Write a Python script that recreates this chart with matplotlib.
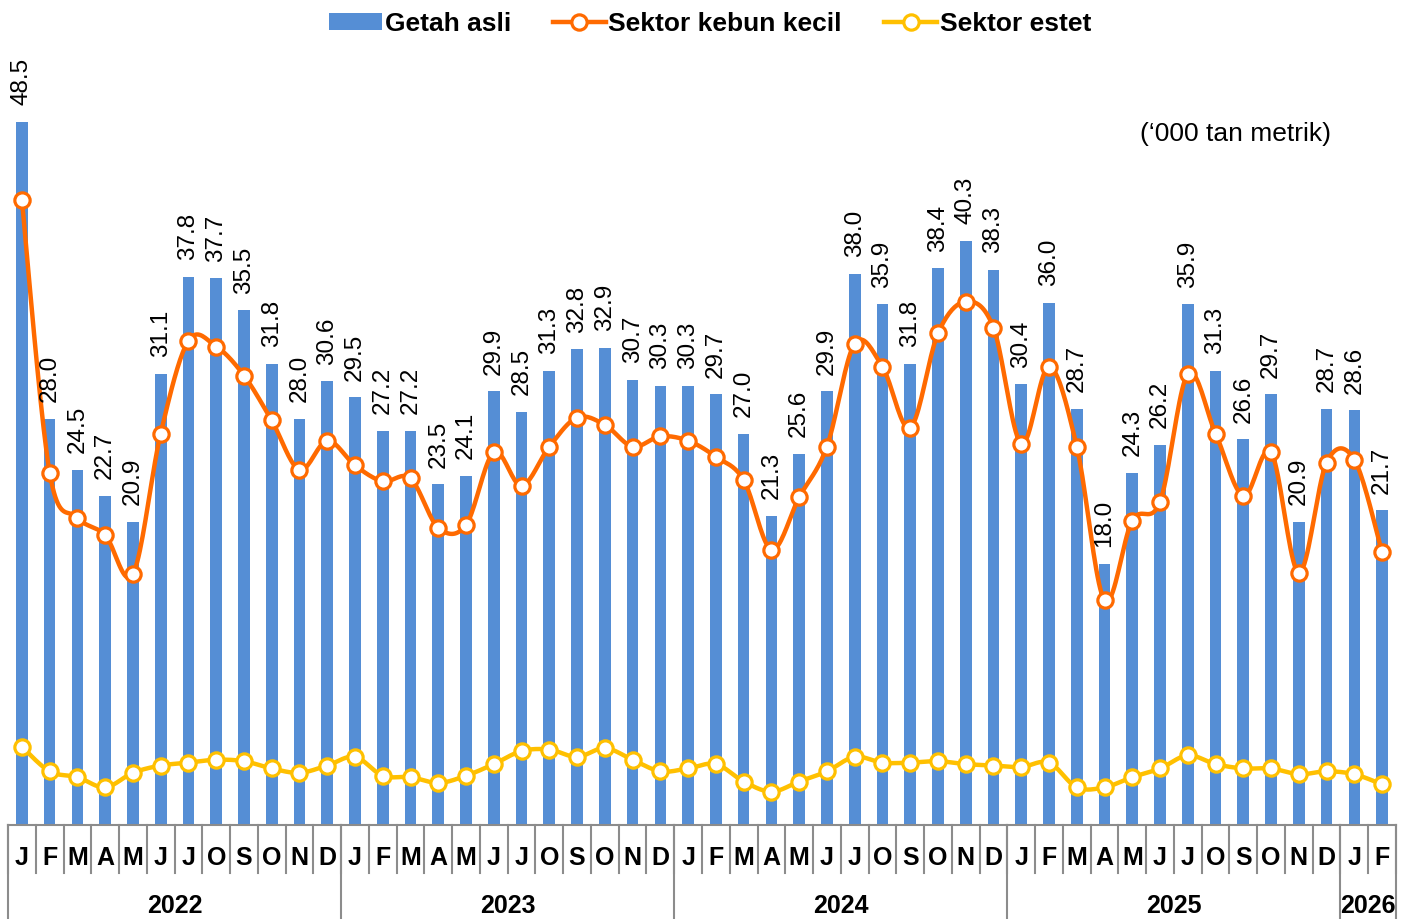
import numpy as np
import matplotlib
matplotlib.use("Agg")
import matplotlib.pyplot as plt
from matplotlib.transforms import blended_transform_factory
from matplotlib.lines import Line2D
from matplotlib.patches import Patch

plt.rcParams['font.family'] = ['Liberation Sans', 'DejaVu Sans']

months = ["J", "F", "M", "A", "M", "J", "J", "O", "S", "O", "N", "D"]
years = ["2022", "2023", "2024", "2025", "2026"]
months_per_year = [12, 12, 12, 12, 2]

getah_asli = [48.5, 28.0, 24.5, 22.7, 20.9, 31.1, 37.8, 37.7, 35.5, 31.8, 28.0, 30.6,
              29.5, 27.2, 27.2, 23.5, 24.1, 29.9, 28.5, 31.3, 32.8, 32.9, 30.7, 30.3,
              30.3, 29.7, 27.0, 21.3, 25.6, 29.9, 38.0, 35.9, 31.8, 38.4, 40.3, 38.3,
              30.4, 36.0, 28.7, 18.0, 24.3, 26.2, 35.9, 31.3, 26.6, 29.7, 20.9, 28.7,
              28.6, 21.7]
kebun_kecil = [43.1, 24.3, 21.2, 20.0, 17.3, 27.0, 33.4, 33.0, 31.0, 27.9, 24.5, 26.5,
               24.8, 23.7, 23.9, 20.5, 20.7, 25.7, 23.4, 26.1, 28.1, 27.6, 26.1, 26.8,
               26.5, 25.4, 23.8, 19.0, 22.6, 26.1, 33.2, 31.6, 27.4, 33.9, 36.1, 34.3,
               26.3, 31.6, 26.1, 15.5, 21.0, 22.3, 31.1, 27.0, 22.7, 25.7, 17.4, 25.0,
               25.2, 18.8]
estet = [5.4, 3.7, 3.3, 2.6, 3.6, 4.1, 4.3, 4.5, 4.4, 3.9, 3.6, 4.1,
         4.7, 3.4, 3.3, 2.9, 3.4, 4.2, 5.1, 5.2, 4.7, 5.3, 4.5, 3.7,
         3.9, 4.2, 3.0, 2.3, 3.0, 3.7, 4.7, 4.3, 4.3, 4.4, 4.2, 4.1,
         4.0, 4.3, 2.6, 2.6, 3.3, 3.9, 4.8, 4.2, 3.9, 3.9, 3.5, 3.7,
         3.5, 2.8]

BLUE = "#558ED5"
ORANGE = "#FF6A00"
YELLOW = "#FFC000"
GRAY = "#8C8C8C"

W, H = 1413, 919
fig = plt.figure(figsize=(W / 100, H / 100), dpi=100)
ax_left, ax_right = 8, 1396
ax_bottom, ax_top = 825, 30
ax = fig.add_axes([ax_left / W, 1 - ax_bottom / H, (ax_right - ax_left) / W, (ax_bottom - ax_top) / H])

n = len(getah_asli)
x = np.arange(n)
ax.set_xlim(-0.5, n - 0.5)
ax.set_ylim(0, (ax_bottom - ax_top) / 14.5)


def smooth(xs, ys, steps=20):
    xs = np.asarray(xs, float)
    ys = np.asarray(ys, float)
    px = np.concatenate([[xs[0]], xs, [xs[-1]]])
    py = np.concatenate([[ys[0]], ys, [ys[-1]]])
    outx, outy = [], []
    t = np.linspace(0, 1, steps, endpoint=False)
    for i in range(1, len(px) - 2):
        p0x, p1x, p2x, p3x = px[i - 1], px[i], px[i + 1], px[i + 2]
        p0y, p1y, p2y, p3y = py[i - 1], py[i], py[i + 1], py[i + 2]
        c1x, c1y = p1x + (p2x - p0x) / 6, p1y + (p2y - p0y) / 6
        c2x, c2y = p2x - (p3x - p1x) / 6, p2y - (p3y - p1y) / 6
        bx = (1 - t) ** 3 * p1x + 3 * (1 - t) ** 2 * t * c1x + 3 * (1 - t) * t ** 2 * c2x + t ** 3 * p2x
        by = (1 - t) ** 3 * p1y + 3 * (1 - t) ** 2 * t * c1y + 3 * (1 - t) * t ** 2 * c2y + t ** 3 * p2y
        outx.extend(bx)
        outy.extend(by)
    outx.append(xs[-1])
    outy.append(ys[-1])
    return np.array(outx), np.array(outy)


ax.bar(x, getah_asli, width=0.42, color=BLUE, zorder=1)

for ys, col in [(kebun_kecil, ORANGE), (estet, YELLOW)]:
    sx, sy = smooth(x, ys)
    ax.plot(sx, sy, color=col, lw=3.2, zorder=2, solid_capstyle="round")
    ax.plot(x, ys, ls="none", marker="o", ms=11, mfc="white", mec=col, mew=2.3, zorder=3)

for xi, v in zip(x, getah_asli):
    ax.annotate(f"{v:.1f}", (xi, v), xytext=(0, 12), textcoords="offset points",
                rotation=90, ha="center", va="bottom", fontsize=17.5, color="black")

for s in ["top", "right", "left"]:
    ax.spines[s].set_visible(False)
ax.spines["bottom"].set_color(GRAY)
ax.spines["bottom"].set_linewidth(1.5)
ax.set_xticks([])
ax.set_yticks([])

tr = blended_transform_factory(ax.transData, fig.transFigure)
y_axis = 1 - ax_bottom / H
y_mid = 1 - 873 / H
y_bot = 0.0

for i in range(n + 1):
    ax.plot([i - 0.5, i - 0.5], [y_axis, y_mid], transform=tr, color=GRAY, lw=1.5, clip_on=False)
month_labels = []
for cnt in months_per_year:
    month_labels.extend(months[:cnt])
for i, lab in enumerate(month_labels):
    ax.text(i, 1 - 858 / H, lab, transform=tr, ha="center", va="center",
            fontsize=18, fontweight="bold")

bounds = [0]
for cnt in months_per_year:
    bounds.append(bounds[-1] + cnt)
for b in bounds:
    ax.plot([b - 0.5, b - 0.5], [y_axis, y_bot], transform=tr, color=GRAY, lw=1.5, clip_on=False)
for yr, b0, b1 in zip(years, bounds[:-1], bounds[1:]):
    ax.text((b0 + b1 - 1) / 2, 1 - 906 / H, yr, transform=tr, ha="center", va="center",
            fontsize=18, fontweight="bold")

fig.text(1236 / W, 1 - 134 / H, "(\u2018000 tan metrik)", ha="center", va="center", fontsize=19)

handles = [
    Patch(facecolor=BLUE, edgecolor="none"),
    Line2D([], [], color=ORANGE, lw=3.2, marker="o", ms=11, mfc="white", mec=ORANGE, mew=2.3),
    Line2D([], [], color=YELLOW, lw=3.2, marker="o", ms=11, mfc="white", mec=YELLOW, mew=2.3),
]
labels = ["Getah asli", "Sektor kebun kecil", "Sektor estet"]
leg = fig.legend(handles, labels, loc="center", bbox_to_anchor=(710 / W, 1 - 24 / H), ncol=3,
                 frameon=False, handlelength=2.0, handleheight=0.6, handletextpad=0.1,
                 columnspacing=1.6, prop={"size": 19, "weight": "bold"})

fig.savefig("out.png", dpi=100)
